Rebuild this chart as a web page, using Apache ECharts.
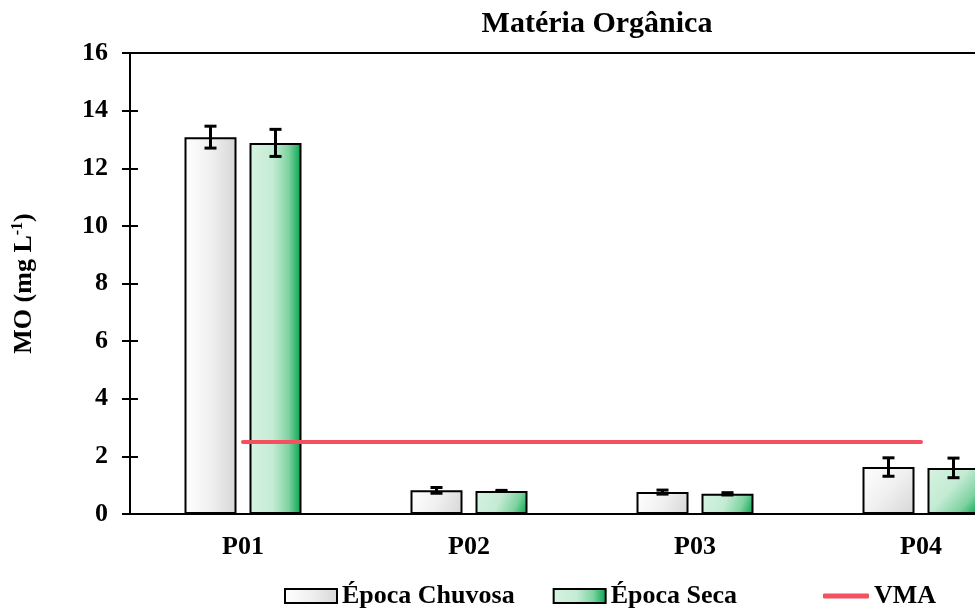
<!DOCTYPE html>
<html>
<head>
<meta charset="utf-8">
<script src="https://cdn.jsdelivr.net/npm/echarts@6/dist/echarts.min.js"></script>
<style>
  html, body { margin: 0; padding: 0; background: #fff; }
  #chart { width: 975px; height: 608px; }
</style>
</head>
<body>
<div id="chart"></div>
<script>
// Sampling points
const categories = ['P01', 'P02', 'P03', 'P04'];
// Organic matter, rainy season (mean and deviation)
const chuvosa = [13.08, 0.82, 0.76, 1.63];
const chuvosaErr = [0.38, 0.10, 0.07, 0.32];
// Organic matter, dry season (mean and deviation)
const seca = [12.88, 0.80, 0.70, 1.60];
const secaErr = [0.47, 0.02, 0.04, 0.34];
// Maximum allowed value
const vma = [2.5, 2.5, 2.5, 2.5];
const yTicks = { min: 0, max: 16, interval: 2 };

const FONT = '"Liberation Serif", "Times New Roman", serif';
const BAR_W = 52;
const BAR_GAP = 13;
const VMA_COLOR = '#f5505f';

function grad(stops, tall) {
  return new echarts.graphic.LinearGradient(0, 0, 1, tall ? 0 : 1,
    stops.map(c => ({ offset: c[0], color: c[1] })));
}
const greyStops = [[0, '#ffffff'], [0.5, '#f0f0f0'], [1, '#d6d6d6']];
const greenStops = [[0, '#d6f3e1'], [0.45, '#c4ebd4'], [0.75, '#7fd3a1'], [1, '#02a34c']];

function errorSeries(name, vals, errs, side) {
  return {
    type: 'custom',
    name: name,
    z: 10,
    silent: true,
    encode: { x: 0, y: [1, 2] },
    data: vals.map((v, i) => [i, v - errs[i], v + errs[i]]),
    renderItem(params, api) {
      const base = api.coord([api.value(0), 0]);
      const x = base[0] + side * (BAR_W + BAR_GAP) / 2;
      const lo = api.coord([api.value(0), api.value(1)])[1];
      const hi = api.coord([api.value(0), api.value(2)])[1];
      const w = 6;
      const st = { stroke: '#000', lineWidth: 3 };
      return {
        type: 'group',
        children: [
          { type: 'line', shape: { x1: x, y1: hi, x2: x, y2: lo }, style: st },
          { type: 'line', shape: { x1: x - w, y1: hi, x2: x + w, y2: hi }, style: st },
          { type: 'line', shape: { x1: x - w, y1: lo, x2: x + w, y2: lo }, style: st }
        ]
      };
    }
  };
}

const legendText = { fontFamily: FONT, fontWeight: 'bold', fontSize: 26, color: '#000' };

const chart = echarts.init(document.getElementById('chart'), null, { renderer: 'canvas' });
chart.setOption({
  animation: false,
  textStyle: { fontFamily: FONT },
  title: {
    text: 'Matéria Orgânica',
    left: 592,
    textAlign: 'center',
    top: 4,
    textStyle: { fontFamily: FONT, fontWeight: 'bold', fontSize: 30, color: '#000' }
  },
  legend: [
    {
      left: 279,
      top: 578,
      itemWidth: 52,
      itemHeight: 14,
      itemGap: 38,
      textStyle: legendText,
      data: [
        { name: 'Época Chuvosa', icon: 'rect',
          itemStyle: { color: grad(greyStops, true), borderColor: '#000', borderWidth: 2 } },
        { name: 'Época Seca', icon: 'rect',
          itemStyle: { color: grad(greenStops, true), borderColor: '#000', borderWidth: 2 } }
      ]
    },
    {
      left: 818,
      top: 578,
      itemWidth: 46,
      itemHeight: 5,
      textStyle: legendText,
      data: [
        { name: 'VMA', icon: 'roundRect', itemStyle: { color: VMA_COLOR } }
      ]
    }
  ],
  grid: {
    left: 130, top: 53, width: 904, bottom: 94,
    outerBoundsMode: 'none',
    containLabel: false,
    show: true, borderColor: '#000', borderWidth: 2, backgroundColor: 'transparent'
  },
  xAxis: [
    {
      type: 'category',
      data: categories,
      axisLine: { lineStyle: { color: '#000', width: 2 } },
      axisTick: { alignWithLabel: true, length: 6, lineStyle: { color: '#000', width: 2 } },
      axisLabel: { margin: 20, color: '#000', fontFamily: FONT, fontWeight: 'bold', fontSize: 26 }
    },
    {
      type: 'category',
      data: categories,
      position: 'bottom',
      axisLine: { show: false },
      axisTick: { inside: true, alignWithLabel: true, length: 5, lineStyle: { color: '#000', width: 2 } },
      axisLabel: { show: false }
    }
  ],
  yAxis: [
    {
      type: 'value',
      min: yTicks.min, max: yTicks.max, interval: yTicks.interval,
      name: '{a|MO (mg L}{s|-1}{a|)}',
      nameLocation: 'middle',
      nameGap: 92,
      nameRotate: 90,
      nameTextStyle: {
        rich: {
          a: { fontFamily: FONT, fontWeight: 'bold', fontSize: 26, color: '#000' },
          s: { fontFamily: FONT, fontWeight: 'bold', fontSize: 16, color: '#000', verticalAlign: 'top', padding: [0, 0, 12, 0] }
        }
      },
      axisLine: { show: true, lineStyle: { color: '#000', width: 2 } },
      axisTick: { show: true, length: 8, lineStyle: { color: '#000', width: 2 } },
      axisLabel: { margin: 22, color: '#000', fontFamily: FONT, fontWeight: 'bold', fontSize: 26 },
      splitLine: { show: false }
    },
    {
      type: 'value',
      position: 'left',
      min: yTicks.min, max: yTicks.max, interval: yTicks.interval,
      axisLine: { show: false },
      axisTick: { show: true, inside: true, length: 8, lineStyle: { color: '#000', width: 2 } },
      axisLabel: { show: false },
      splitLine: { show: false }
    }
  ],
  series: [
    {
      name: 'Época Chuvosa',
      type: 'bar',
      data: chuvosa,
      barWidth: BAR_W,
      barGap: (BAR_GAP / BAR_W * 100) + '%',
      itemStyle: {
        borderColor: '#000', borderWidth: 2,
        color: p => grad(greyStops, p.value > 5)
      }
    },
    {
      name: 'Época Seca',
      type: 'bar',
      data: seca,
      barWidth: BAR_W,
      barGap: (BAR_GAP / BAR_W * 100) + '%',
      itemStyle: {
        borderColor: '#000', borderWidth: 2,
        color: p => grad(greenStops, p.value > 5)
      }
    },
    {
      name: 'VMA',
      type: 'line',
      data: vma,
      symbol: 'none',
      z: 5,
      lineStyle: { color: VMA_COLOR, width: 4, cap: 'round' },
      itemStyle: { color: VMA_COLOR }
    },
    errorSeries('errChuvosa', chuvosa, chuvosaErr, -1),
    errorSeries('errSeca', seca, secaErr, 1)
  ]
});
</script>
</body>
</html>
